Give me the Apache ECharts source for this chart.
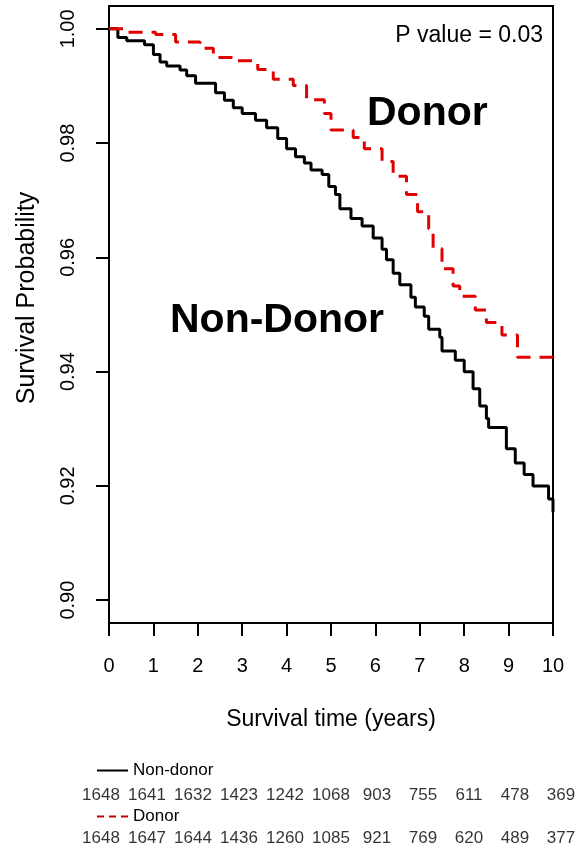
<!DOCTYPE html>
<html><head><meta charset="utf-8">
<script src="https://cdn.jsdelivr.net/npm/echarts@6/dist/echarts.min.js"></script>
<style>html,body{margin:0;padding:0;background:#fff}#c{width:575px;height:851px}</style>
</head><body><div id="c"></div>
<script>
// ---- data ----
const yearTicks = [0, 1, 2, 3, 4, 5, 6, 7, 8, 9, 10];
const probTicks = [0.90, 0.92, 0.94, 0.96, 0.98, 1.00];

const nonDonorTimes = [0, 0.2, 0.4, 0.8, 1.0, 1.15, 1.3, 1.6, 1.75, 1.95, 2.4, 2.6, 2.8, 3.0, 3.3, 3.55, 3.8, 4.0, 4.2, 4.4, 4.55, 4.8, 4.95, 5.1, 5.2, 5.45, 5.7, 5.95, 6.15, 6.25, 6.4, 6.55, 6.8, 6.9, 7.1, 7.2, 7.45, 7.5, 7.8, 8.0, 8.2, 8.35, 8.5, 8.55, 8.95, 9.15, 9.35, 9.55, 9.9, 10];
const nonDonorSurv  = [1.0, 0.9985, 0.9979, 0.9972, 0.9955, 0.9942, 0.9935, 0.9928, 0.9918, 0.9905, 0.9888, 0.9875, 0.9862, 0.9852, 0.9840, 0.9827, 0.9808, 0.9790, 0.9776, 0.9765, 0.9753, 0.9745, 0.9724, 0.9710, 0.9685, 0.9668, 0.9655, 0.9634, 0.9614, 0.9596, 0.9572, 0.9552, 0.9530, 0.9513, 0.9497, 0.9474, 0.9460, 0.9436, 0.9420, 0.9400, 0.9370, 0.9340, 0.9318, 0.9302, 0.9265, 0.9240, 0.9220, 0.9200, 0.9177, 0.9154];

const donorTimes = [0, 0.35, 1.05, 1.5, 2.05, 2.35, 2.9, 3.35, 3.7, 4.15, 4.45, 4.85, 5.0, 5.5, 5.75, 6.15, 6.4, 6.7, 6.95, 7.2, 7.3, 7.5, 7.75, 7.9, 8.25, 8.5, 8.85, 9.2, 10];
const donorSurv  = [1.0, 0.9994, 0.9990, 0.9977, 0.9966, 0.9950, 0.9944, 0.9929, 0.9912, 0.9901, 0.9876, 0.9852, 0.9823, 0.9810, 0.9790, 0.9768, 0.9742, 0.9710, 0.9680, 0.9650, 0.9615, 0.9580, 0.9550, 0.9532, 0.9508, 0.9486, 0.9464, 0.9425, 0.9425];

const riskNonDonor = [1648, 1641, 1632, 1423, 1242, 1068, 903, 755, 611, 478, 369];
const riskDonor    = [1648, 1647, 1644, 1436, 1260, 1085, 921, 769, 620, 489, 377];

const seriesNames = ['Non-donor', 'Donor'];
const xTitle = 'Survival time (years)';
const yTitle = 'Survival Probability';
const pText = 'P value = 0.03';
const labelDonor = 'Donor';
const labelNonDonor = 'Non-Donor';

// ---- chart ----
const FONT = '"Liberation Sans", Arial, sans-serif';
const RED = '#e00000';
const chart = echarts.init(document.getElementById('c'), null, {renderer: 'canvas'});
const toPairs = (ts, vs) => ts.map((t, i) => [t, vs[i]]);
const hiddenSymbol = {color: 'rgba(0,0,0,0)', borderColor: 'rgba(0,0,0,0)', borderWidth: 0, opacity: 0};

chart.setOption({
  animation: false,
  backgroundColor: '#fff',
  textStyle: {fontFamily: FONT, color: '#000'},
  grid: [
    {left: 109, right: 22, top: 6, bottom: 228, show: true, borderColor: '#000', borderWidth: 2, backgroundColor: 'transparent'},
    {left: 101, right: 14, top: 795, bottom: 13, show: false}
  ],
  xAxis: [
    {
      gridIndex: 0, type: 'value', min: 0, max: 10, interval: 1,
      name: xTitle, nameLocation: 'middle', nameGap: 85,
      nameTextStyle: {fontSize: 23, color: '#000', fontFamily: FONT},
      axisLine: {show: true, lineStyle: {color: '#000', width: 2}},
      axisTick: {show: true, length: 13, lineStyle: {color: '#000', width: 2}},
      axisLabel: {show: true, fontSize: 20, color: '#000', margin: 33, fontFamily: FONT,
                  customValues: yearTicks},
      splitLine: {show: false}
    },
    {gridIndex: 1, type: 'value', min: 0, max: 10, show: false}
  ],
  yAxis: [
    {
      gridIndex: 0, type: 'value', min: 0.896, max: 1.004,
      axisLine: {show: true, lineStyle: {color: '#000', width: 2}},
      axisTick: {show: true, length: 13, lineStyle: {color: '#000', width: 2}, customValues: probTicks},
      axisLabel: {show: true, fontSize: 20, color: '#000', margin: 31, rotate: 90, fontFamily: FONT,
                  customValues: probTicks, formatter: v => v.toFixed(2)},
      splitLine: {show: false}
    },
    {gridIndex: 1, type: 'value', min: 0, max: 1, show: false}
  ],
  legend: [
    {data: [seriesNames[0]], left: 96, top: 762, padding: 0, itemWidth: 31, itemHeight: 14,
     selectedMode: false, itemStyle: hiddenSymbol, lineStyle: {width: 2, color: '#000'},
     textStyle: {fontSize: 17, color: '#000', fontFamily: FONT}},
    {data: [seriesNames[1]], left: 96, top: 808, padding: 0, itemWidth: 31, itemHeight: 14,
     selectedMode: false, itemStyle: hiddenSymbol, lineStyle: {width: 2, color: '#c00000', type: [7, 5]},
     textStyle: {fontSize: 17, color: '#000', fontFamily: FONT}}
  ],
  series: [
    {
      type: 'line', name: seriesNames[0], xAxisIndex: 0, yAxisIndex: 0,
      data: toPairs(nonDonorTimes, nonDonorSurv), step: 'end', symbol: 'none',
      lineStyle: {color: '#000', width: 3}, itemStyle: {color: '#000'}, z: 3, silent: true
    },
    {
      type: 'line', name: seriesNames[1], xAxisIndex: 0, yAxisIndex: 0,
      data: toPairs(donorTimes, donorSurv), step: 'end', symbol: 'none',
      lineStyle: {color: RED, width: 3, type: [14, 9]}, itemStyle: {color: RED}, z: 4, silent: true
    },
    {
      type: 'scatter', name: 'riskNonDonor', xAxisIndex: 1, yAxisIndex: 1,
      data: riskNonDonor.map((n, i) => [yearTicks[i], 1, n]),
      symbolSize: 1, itemStyle: {color: 'rgba(0,0,0,0)'}, silent: true,
      label: {show: true, position: 'inside', formatter: p => String(p.value[2]), color: '#000', fontSize: 17, fontFamily: FONT}
    },
    {
      type: 'scatter', name: 'riskDonor', xAxisIndex: 1, yAxisIndex: 1,
      data: riskDonor.map((n, i) => [yearTicks[i], 0, n]),
      symbolSize: 1, itemStyle: {color: 'rgba(0,0,0,0)'}, silent: true,
      label: {show: true, position: 'inside', formatter: p => String(p.value[2]), color: '#000', fontSize: 17, fontFamily: FONT}
    }
  ],
  graphic: [
    {type: 'text', x: 27, y: 298, rotation: Math.PI / 2,
     style: {text: yTitle, font: '25px ' + FONT, fill: '#000', align: 'center', verticalAlign: 'middle'}},
    {type: 'text', right: 32, top: 24, style: {text: pText, font: '23px ' + FONT, fill: '#000'}},
    {type: 'text', left: 367, top: 93, style: {text: labelDonor, font: 'bold 41px ' + FONT, fill: '#000'}},
    {type: 'text', left: 170, top: 300, style: {text: labelNonDonor, font: 'bold 41px ' + FONT, fill: '#000'}}
  ]
});
</script>
</body></html>
